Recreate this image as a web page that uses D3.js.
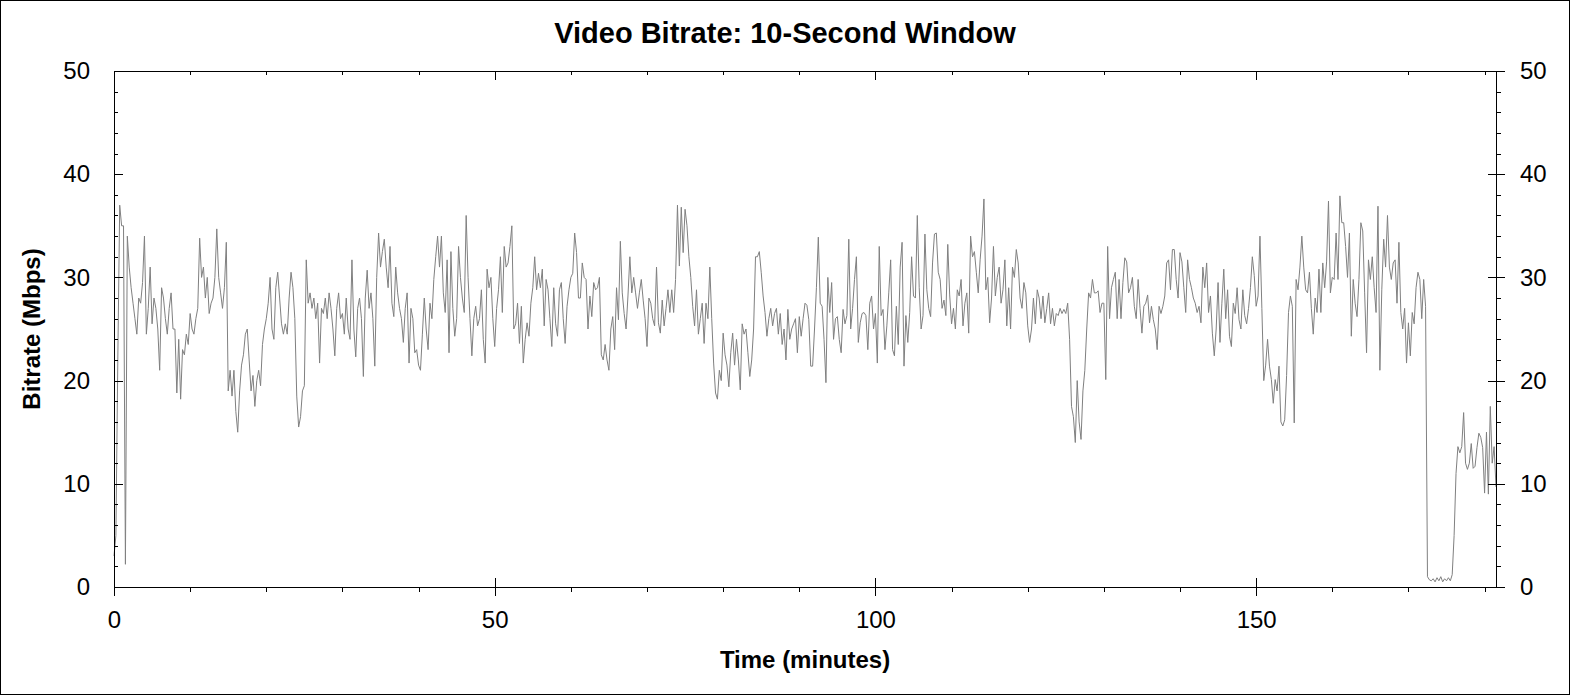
<!DOCTYPE html>
<html>
<head>
<meta charset="utf-8">
<script src="https://cdn.jsdelivr.net/npm/d3@7"></script>
<style>
  body { margin: 0; background: #fff; }
  svg { display: block; }
</style>
</head>
<body>
<script>
// one reading every quarter minute, in Mbps
var stepMinutes = 0.25;

var bitrate000 = [3, 5, 22, 37, 35, 35, 2.2, 34, 31, 29,
  27.5, 26, 24.5, 28, 27.5, 29.5, 34, 24.5, 27, 31,
  25.5, 28, 27, 25, 21, 29, 28, 26, 24.5, 27,
  28.5, 25, 25, 18.8, 24, 18.2, 23, 22.5, 24.5, 23.5,
  26.5, 25, 24.5, 26, 27, 33.8, 30, 31, 28, 30,
  26.5, 27.5, 28, 30, 34.7, 30, 28.5, 27, 29, 33.4,
  19, 21, 18.5, 21, 17, 15, 19, 21.5, 22.5, 24.5,
  25, 22, 19, 20.5, 17.5, 20, 21, 19.5, 23.5, 25,
  26, 27.5, 30, 25, 24, 29, 30.5, 28, 25.5, 24.5,
  25.5, 24.5, 28, 30.5, 29, 26, 18.5, 15.5, 16.5, 19,
  19.5, 31.7, 27.5, 28.5, 27, 28, 26, 27.5, 21.7, 27,
  26.5, 28, 26, 28.5, 27, 25, 22.4, 27, 28.5, 26];

var bitrate030 = [26.5, 24.5, 28, 25, 24, 31.7, 25, 22.3, 27, 28,
  26, 20.4, 28, 30.7, 27, 28.5, 26, 21.4, 30, 34.3,
  31, 32.5, 33.7, 31, 29, 33, 27.5, 26.2, 31, 28.5,
  27, 26, 23.7, 27, 28.5, 21.7, 27, 26, 22.7, 23,
  21.5, 21, 24.5, 28, 25, 23, 27.5, 26, 29.8, 32,
  34, 31, 34, 28.5, 26.6, 31.7, 22.7, 32.5, 27, 24.3,
  26, 33, 30, 28, 26.6, 36, 30, 26, 22.4, 26,
  27.2, 25.3, 26, 28.8, 24, 21.7, 30.8, 29, 30, 26,
  23.3, 27, 28.8, 32, 26.6, 33, 31, 31.4, 33, 35,
  25, 25.5, 27.5, 23.6, 27.2, 21.7, 24, 25.6, 24.3, 27.5,
  29, 32, 28.8, 30.4, 29, 30.8, 25.3, 29.8, 28.8, 26,
  23.3, 29, 25.5, 24.3, 28.8, 29.5, 26, 23.6, 27.2, 28.8];

var bitrate060 = [30, 30.4, 34.3, 32.4, 28, 28, 31.4, 30, 29.8, 25,
  28.2, 26.2, 29.5, 28.8, 29, 30, 22.5, 22, 23.5, 22,
  21, 25, 26.2, 23, 29, 25.9, 33.5, 28.5, 26.5, 25,
  28.2, 32, 28.5, 30, 28.5, 27, 28.5, 29.8, 27.8, 26,
  23.3, 28, 27.5, 26, 25.3, 31, 25.6, 24.6, 27.8, 25.3,
  27, 28.8, 26.6, 28.8, 26.6, 29.8, 37, 31.1, 36.8, 32.4,
  36.6, 35, 32, 30, 27.2, 25.3, 28.8, 24.5, 26, 27.5,
  23.6, 27.5, 26, 31, 26, 21.7, 18.8, 18.2, 21, 20,
  24.6, 22.5, 21.5, 19.4, 22.7, 24.6, 21.5, 24, 22, 19.1,
  25.5, 24.5, 25, 22.7, 20.4, 22, 25, 32, 32, 32.5,
  30.5, 28.2, 26.6, 24.3, 26, 27, 25.3, 26.5, 27, 24.5,
  26.5, 23.5, 25, 22, 26.9, 24, 25, 25.5, 26, 22.7];

var bitrate090 = [26.2, 24.3, 26, 27.5, 27.3, 25.9, 21.4, 21.4, 25, 29,
  33.9, 27.5, 27.2, 24, 19.8, 30, 26.6, 29.5, 24, 26,
  26.2, 24, 22.7, 26.9, 25.5, 26.3, 33.7, 25, 27, 29.8,
  32, 23.7, 25.6, 26.5, 26.6, 26.3, 23, 27.5, 28.2, 25,
  26.5, 21.7, 33, 26.3, 26.9, 23, 25.3, 28.5, 31.7, 23,
  22.4, 27.2, 23.5, 31, 33.4, 21.4, 26.3, 23.7, 26.6, 32,
  28.2, 28, 36, 29, 25, 26.3, 34.2, 28.8, 27, 26.2,
  31.4, 34.2, 34.3, 30.5, 29.8, 27, 27.8, 26.3, 33.2, 28.3,
  25.5, 27, 25, 28.8, 28.2, 29.8, 25.3, 27.5, 28.5, 24.6,
  34, 32, 32.5, 30.5, 28.5, 31.7, 34, 37.6, 28.8, 30,
  25.6, 28, 33, 28.2, 30, 31, 27.5, 28.8, 31.7, 25.3,
  29, 25, 31, 30, 32.7, 31.4, 28, 27, 29.5, 28.5];

var bitrate120 = [25.3, 23.7, 25, 28, 25.5, 28.8, 28, 26, 28.2, 25.6,
  27, 28.5, 25.5, 27, 25.3, 26.5, 26.3, 27, 26.5, 26.9,
  26.5, 27.5, 24, 17.5, 16.5, 14, 20, 16, 14.3, 19,
  21, 25, 28.5, 28, 29.8, 28.5, 28.5, 28.7, 26.6, 27.5,
  27.5, 20.1, 33, 26, 29, 29.8, 30.5, 26, 29.8, 26,
  29.5, 31.9, 31.5, 28.5, 29, 30, 27.2, 26, 29.8, 27,
  24.6, 27.2, 27.5, 28.3, 25.6, 27.2, 25.9, 25, 23, 27.2,
  26.5, 27.2, 28.2, 31.4, 31.7, 28.8, 32.7, 32.7, 29.8, 28,
  32.4, 31.5, 29, 26.6, 31.7, 29.8, 29, 28, 27.5, 26.6,
  27.2, 25.6, 31, 29, 31.4, 26.6, 28.2, 24.6, 22.4, 25,
  29.5, 23.7, 27.5, 30.8, 26, 28.8, 24.3, 23.3, 27.5, 26.5,
  29, 25.9, 25, 28.8, 26.3, 25.5, 27, 29, 32, 30.2];

var bitrate150 = [27.2, 28.2, 34, 27, 20, 21.5, 24, 21.4, 20.1, 17.8,
  20.1, 19, 21.4, 16, 15.6, 16.2, 20.5, 26.6, 28.2, 27.2,
  15.9, 29.8, 28.8, 31, 34, 31, 28.8, 28.5, 30.5, 27,
  24.5, 28, 26.6, 30.8, 26.6, 31.4, 29, 31.5, 37.4, 28.5,
  30, 29.8, 34.3, 29.8, 37.9, 35.3, 35.3, 33, 30, 34.3,
  24.3, 29.8, 27.5, 26.2, 29.8, 35.3, 34.5, 28.5, 22.7, 31.7,
  29.8, 32, 29, 26.6, 36.9, 21, 28.8, 33.7, 31, 36,
  31, 29.8, 31.4, 31.7, 27.5, 33.4, 26.6, 25, 27, 21.7,
  25.6, 22.4, 26.6, 25.5, 29, 30.5, 29.8, 26, 29.8, 27.2,
  1, 0.7, 0.6, 0.8, 0.5, 0.9, 0.6, 1.0, 0.5, 0.8,
  0.6, 0.9, 0.6, 1.2, 5, 11, 13.6, 13, 13.6, 16.9,
  12, 11.4, 12, 13.9, 11.5, 11.7, 13.5, 14.9, 14.5, 13.5,
  9.1, 15, 9, 17.5, 12, 13.6, 9.7];

var xMajorTicks = [0, 50, 100, 150];
var xMinorTicks = [10, 20, 30, 40, 60, 70, 80, 90, 110, 120, 130, 140, 160, 170, 180];
var yMajorTicks = [0, 10, 20, 30, 40, 50];
var yMinorTicks = [2, 4, 6, 8, 12, 14, 16, 18, 22, 24, 26, 28, 32, 34, 36, 38, 42, 44, 46, 48];

var data = bitrate000.concat(bitrate030, bitrate060, bitrate090, bitrate120, bitrate150)
  .map(function (v, i) { return { minutes: i * stepMinutes, mbps: v }; });

var w = 1570;
var h = 695;
var fontFam = '"Liberation Sans", Arial, sans-serif';

var svg = d3.select('body')
  .append('svg')
  .attr('width', w)
  .attr('height', h);

svg.append('rect')
  .attr('x', 0.5).attr('y', 0.5)
  .attr('width', w - 1).attr('height', h - 1)
  .attr('fill', '#fff')
  .attr('stroke', '#000');

var xScale = d3.scaleLinear().domain([0, 181.5]).range([114, 1496]);
var yScale = d3.scaleLinear().domain([0, 50]).range([587, 71]);

function styleAxis(g) {
  g.attr('font-family', fontFam).attr('font-size', 24);
  g.selectAll('text').attr('fill', '#000');
  g.selectAll('line, path').attr('stroke', '#000').attr('shape-rendering', 'crispEdges');
}

// data line
svg.append('path')
  .datum(data)
  .attr('fill', 'none')
  .attr('stroke', '#808080')
  .attr('stroke-width', 1)
  .attr('d', d3.line().x(d => xScale(d.minutes)).y(d => yScale(d.mbps)));

// bottom axis
svg.append('g')
  .attr('transform', 'translate(0,587)')
  .call(d3.axisBottom(xScale).tickValues(xMinorTicks).tickSize(5).tickSizeOuter(0).tickFormat(''))
  .call(styleAxis);

svg.append('g')
  .attr('transform', 'translate(0,587)')
  .call(d3.axisBottom(xScale).tickValues(xMajorTicks).tickSize(9).tickSizeOuter(0).tickPadding(15))
  .call(styleAxis)
  .selectAll('.tick line').attr('y1', -9);

// top axis, ticks pointing in
svg.append('g')
  .attr('transform', 'translate(0,71)')
  .call(d3.axisBottom(xScale).tickValues(xMinorTicks).tickSize(4).tickSizeOuter(0).tickFormat(''))
  .call(styleAxis);

svg.append('g')
  .attr('transform', 'translate(0,71)')
  .call(d3.axisBottom(xScale).tickValues(xMajorTicks).tickSize(9).tickSizeOuter(0).tickFormat(''))
  .call(styleAxis);

// left axis
svg.append('g')
  .attr('transform', 'translate(114,0)')
  .call(d3.axisLeft(yScale).tickValues(yMinorTicks).tickSize(5).tickSizeOuter(0).tickFormat(''))
  .call(styleAxis)
  .selectAll('.tick line').attr('x2', 4);

svg.append('g')
  .attr('transform', 'translate(114,0)')
  .call(d3.axisLeft(yScale).tickValues(yMajorTicks).tickSize(10).tickSizeOuter(0).tickPadding(14))
  .call(styleAxis)
  .selectAll('.tick line').attr('x2', 9);

// right axis
svg.append('g')
  .attr('transform', 'translate(1496,0)')
  .call(d3.axisRight(yScale).tickValues(yMinorTicks).tickSize(5).tickSizeOuter(0).tickFormat(''))
  .call(styleAxis);

svg.append('g')
  .attr('transform', 'translate(1496,0)')
  .call(d3.axisRight(yScale).tickValues(yMajorTicks).tickSize(9).tickSizeOuter(0).tickPadding(15))
  .call(styleAxis)
  .selectAll('.tick line').attr('x1', -8);

// titles
svg.append('text')
  .attr('x', 785).attr('y', 43)
  .attr('text-anchor', 'middle')
  .attr('font-family', fontFam).attr('font-size', 29).attr('font-weight', 'bold')
  .text('Video Bitrate: 10-Second Window');

svg.append('text')
  .attr('x', 805).attr('y', 668)
  .attr('text-anchor', 'middle')
  .attr('font-family', fontFam).attr('font-size', 24).attr('font-weight', 'bold')
  .text('Time (minutes)');

svg.append('text')
  .attr('transform', 'translate(40,329) rotate(-90)')
  .attr('text-anchor', 'middle')
  .attr('font-family', fontFam).attr('font-size', 24).attr('font-weight', 'bold')
  .text('Bitrate (Mbps)');
</script>
</body>
</html>
